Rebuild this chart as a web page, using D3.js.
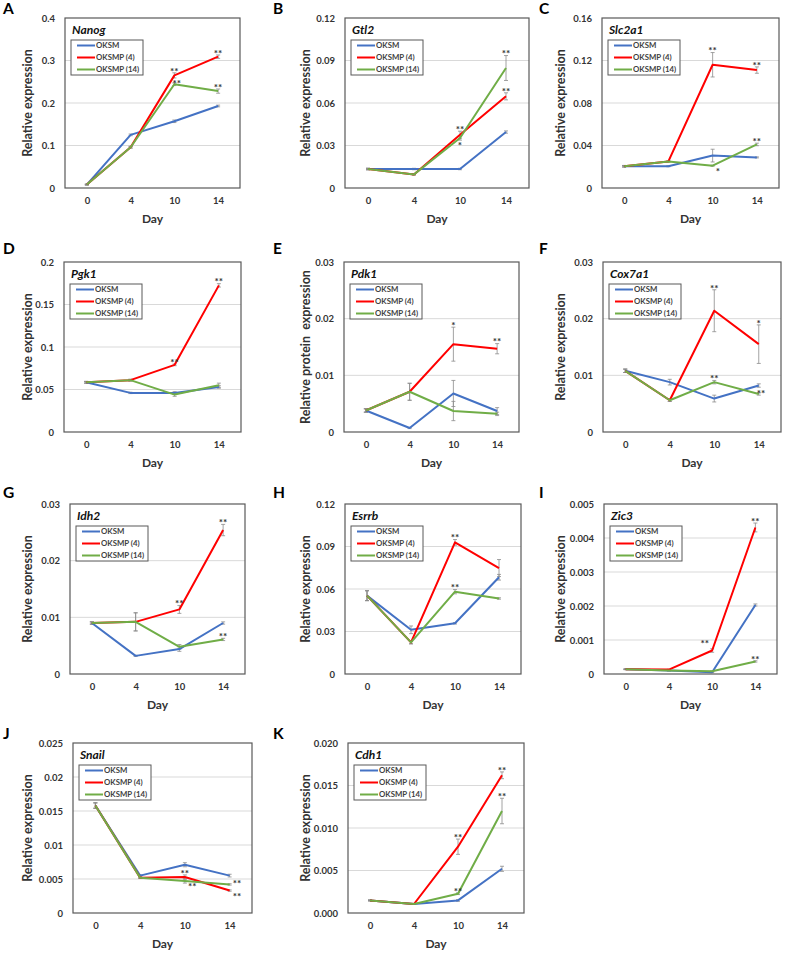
<!DOCTYPE html>
<html>
<head>
<meta charset="utf-8">
<script src="https://cdn.jsdelivr.net/npm/d3@7"></script>
<style>
  body { margin: 0; background: #fff; }
  svg text { font-family: Lato, "Open Sans", sans-serif; }
</style>
</head>
<body>
<svg id="chart" width="789" height="954"></svg>
<script>
const days = ["0", "4", "10", "14"];
const seriesNames = ["OKSM", "OKSMP (4)", "OKSMP (14)"];
const seriesColors = ["#4472C4", "#FF0000", "#70AD47"];

// each gene: [OKSM, OKSMP (4), OKSMP (14)] x days
const nanogTicks = [0, 0.1, 0.2, 0.3, 0.4];
const nanogTickLabels = ["0", "0.1", "0.2", "0.3", "0.4"];
const nanogMean = [[0.008, 0.125, 0.157, 0.193], [0.008, 0.096, 0.265, 0.309], [0.008, 0.096, 0.244, 0.228]];
const nanogErr = [[0.001, 0.002, 0.003, 0.002], [0.001, 0.002, 0.006, 0.004], [0.001, 0.002, 0.003, 0.005]];
const nanogSig = [[1, 2, "**", "up"], [1, 3, "**", "up"], [2, 2, "**", "right"], [2, 3, "**", "up"]];

const gtl2Ticks = [0, 0.03, 0.06, 0.09, 0.12];
const gtl2TickLabels = ["0", "0.03", "0.06", "0.09", "0.12"];
const gtl2Mean = [[0.0134, 0.0134, 0.0134, 0.0395], [0.0134, 0.0096, 0.0376, 0.0647], [0.0134, 0.0096, 0.0353, 0.0847]];
const gtl2Err = [[0.0005, 0.0005, 0.0005, 0.0008], [0.0005, 0.0004, 0.0025, 0.0025], [0.0005, 0.0004, 0.0015, 0.0088]];
const gtl2Sig = [[1, 2, "**", "up"], [2, 2, "*", "down"], [2, 3, "**", "up"], [1, 3, "**", "up"]];

const slc2a1Ticks = [0, 0.04, 0.08, 0.12, 0.16];
const slc2a1TickLabels = ["0", "0.04", "0.08", "0.12", "0.16"];
const slc2a1Mean = [[0.0205, 0.0205, 0.0305, 0.0288], [0.0205, 0.025, 0.116, 0.111], [0.0205, 0.025, 0.021, 0.041]];
const slc2a1Err = [[0.0007, 0.0005, 0.006, 0.0005], [0.0007, 0.0005, 0.0115, 0.003], [0.0007, 0.0005, 0.0005, 0.0012]];
const slc2a1Sig = [[1, 2, "**", "up"], [1, 3, "**", "up"], [2, 3, "**", "up"], [2, 2, "*", "lowright"]];

const pgk1Ticks = [0, 0.05, 0.1, 0.15, 0.2];
const pgk1TickLabels = ["0", "0.05", "0.1", "0.15", "0.2"];
const pgk1Mean = [[0.0585, 0.046, 0.046, 0.053], [0.0585, 0.061, 0.079, 0.1725], [0.0585, 0.061, 0.044, 0.055]];
const pgk1Err = [[0.001, 0.0008, 0.0015, 0.0015], [0.001, 0.001, 0.001, 0.002], [0.001, 0.001, 0.002, 0.0025]];
const pgk1Sig = [[1, 2, "**", "up"], [1, 3, "**", "up"]];

const pdk1Ticks = [0, 0.01, 0.02, 0.03];
const pdk1TickLabels = ["0", "0.01", "0.02", "0.03"];
const pdk1Mean = [[0.0038, 0.0007, 0.0068, 0.0037], [0.0038, 0.0071, 0.0155, 0.0147], [0.0038, 0.0071, 0.0037, 0.0032]];
const pdk1Err = [[0.0003, 0.0001, 0.0023, 0.0006], [0.0003, 0.0015, 0.003, 0.0009], [0.0003, 0.0015, 0.0017, 0.0003]];
const pdk1Sig = [[1, 2, "*", "up"], [1, 3, "**", "up"]];

const cox7a1Ticks = [0, 0.01, 0.02, 0.03];
const cox7a1TickLabels = ["0", "0.01", "0.02", "0.03"];
const cox7a1Mean = [[0.0108, 0.0088, 0.0059, 0.0082], [0.0108, 0.0056, 0.0214, 0.0155], [0.0108, 0.0056, 0.0088, 0.0067]];
const cox7a1Err = [[0.0003, 0.0005, 0.0006, 0.0003], [0.0003, 0.0002, 0.0037, 0.0034], [0.0003, 0.0002, 0.0003, 0.0002]];
const cox7a1Sig = [[1, 2, "**", "up"], [1, 3, "*", "up"], [2, 2, "**", "up"], [2, 3, "**", "right"]];

const idh2Ticks = [0, 0.01, 0.02, 0.03];
const idh2TickLabels = ["0", "0.01", "0.02", "0.03"];
const idh2Mean = [[0.009, 0.0032, 0.0044, 0.009], [0.009, 0.0092, 0.0114, 0.0254], [0.009, 0.0092, 0.0048, 0.0061]];
const idh2Err = [[0.0002, 0.0001, 0.0004, 0.0002], [0.0002, 0.0016, 0.0007, 0.001], [0.0002, 0.0016, 0.0004, 0.0002]];
const idh2Sig = [[1, 2, "**", "up"], [1, 3, "**", "up"], [2, 3, "**", "up"]];

const esrrbTicks = [0, 0.03, 0.06, 0.09, 0.12];
const esrrbTickLabels = ["0", "0.03", "0.06", "0.09", "0.12"];
const esrrbMean = [[0.0553, 0.0312, 0.0358, 0.0683], [0.0553, 0.0223, 0.0929, 0.0748], [0.0553, 0.0223, 0.0581, 0.0533]];
const esrrbErr = [[0.0035, 0.0027, 0.0005, 0.002], [0.0035, 0.001, 0.002, 0.006], [0.0035, 0.001, 0.0015, 0.0005]];
const esrrbSig = [[1, 2, "**", "up"], [2, 2, "**", "up"]];

const zic3Ticks = [0, 0.001, 0.002, 0.003, 0.004, 0.005];
const zic3TickLabels = ["0", "0.001", "0.002", "0.003", "0.004", "0.005"];
const zic3Mean = [[0.00014, 0.0001, 0.00005, 0.00203], [0.00014, 0.00013, 0.00069, 0.00431], [0.00014, 0.0001, 0.00008, 0.00037]];
const zic3Err = [[0.00001, 0.00001, 0.00001, 0.00003], [0.00001, 0.00001, 0.00005, 0.00013], [0.00001, 0.00001, 0.00001, 0.00002]];
const zic3Sig = [[1, 2, "**", "upleft"], [1, 3, "**", "up"], [2, 3, "**", "up"]];

const snailTicks = [0, 0.005, 0.01, 0.015, 0.02, 0.025];
const snailTickLabels = ["0", "0.005", "0.01", "0.015", "0.02", "0.025"];
const snailMean = [[0.0158, 0.0055, 0.0071, 0.0055], [0.0158, 0.0052, 0.0053, 0.0033], [0.0158, 0.0052, 0.0047, 0.0042]];
const snailErr = [[0.0004, 0.0001, 0.0003, 0.0002], [0.0004, 0.0001, 0.0003, 0.0001], [0.0004, 0.0001, 0.0003, 0.0001]];
const snailSig = [[1, 2, "**", "up"], [2, 2, "**", "lowright"], [2, 3, "**", "side"], [1, 3, "**", "lowright"]];

const cdh1Ticks = [0, 0.005, 0.01, 0.015, 0.02];
const cdh1TickLabels = ["0.000", "0.005", "0.010", "0.015", "0.020"];
const cdh1Mean = [[0.00148, 0.00106, 0.00148, 0.0052], [0.00148, 0.00106, 0.0078, 0.0162], [0.00148, 0.00106, 0.00227, 0.012]];
const cdh1Err = [[0.00005, 0.00005, 0.0001, 0.0003], [0.00005, 0.00005, 0.0009, 0.0004], [0.00005, 0.00005, 0.0001, 0.0015]];
const cdh1Sig = [[1, 2, "**", "up"], [1, 3, "**", "up"], [2, 3, "**", "up"], [2, 2, "**", "up"]];

// layout: plot box per panel, row tops, letter positions, y title centre x
const rowTop = [18, 262, 504, 743];
const rowLetterY = [14, 254, 498, 739];
const colTitleX = [27, 305, 560];
const colLetterX = [3, 273, 539];

const panels = [
  { letter: "A", gene: "Nanog", col: 0, row: 0, left: 65, right: 240, ticks: nanogTicks, labels: nanogTickLabels, mean: nanogMean, err: nanogErr, sig: nanogSig },
  { letter: "B", gene: "Gtl2", col: 1, row: 0, left: 345, right: 529, ticks: gtl2Ticks, labels: gtl2TickLabels, mean: gtl2Mean, err: gtl2Err, sig: gtl2Sig },
  { letter: "C", gene: "Slc2a1", col: 2, row: 0, left: 602, right: 779, ticks: slc2a1Ticks, labels: slc2a1TickLabels, mean: slc2a1Mean, err: slc2a1Err, sig: slc2a1Sig },
  { letter: "D", gene: "Pgk1", col: 0, row: 1, left: 64, right: 241, ticks: pgk1Ticks, labels: pgk1TickLabels, mean: pgk1Mean, err: pgk1Err, sig: pgk1Sig },
  { letter: "E", gene: "Pdk1", col: 1, row: 1, left: 344, right: 519, ticks: pdk1Ticks, labels: pdk1TickLabels, mean: pdk1Mean, err: pdk1Err, sig: pdk1Sig, yTitle: "Relative protein  expression" },
  { letter: "F", gene: "Cox7a1", col: 2, row: 1, left: 603, right: 781, ticks: cox7a1Ticks, labels: cox7a1TickLabels, mean: cox7a1Mean, err: cox7a1Err, sig: cox7a1Sig },
  { letter: "G", gene: "Idh2", col: 0, row: 2, left: 70, right: 245, ticks: idh2Ticks, labels: idh2TickLabels, mean: idh2Mean, err: idh2Err, sig: idh2Sig },
  { letter: "H", gene: "Esrrb", col: 1, row: 2, left: 345, right: 521, ticks: esrrbTicks, labels: esrrbTickLabels, mean: esrrbMean, err: esrrbErr, sig: esrrbSig },
  { letter: "I", gene: "Zic3", col: 2, row: 2, left: 604, right: 777, ticks: zic3Ticks, labels: zic3TickLabels, mean: zic3Mean, err: zic3Err, sig: zic3Sig },
  { letter: "J", gene: "Snail", col: 0, row: 3, left: 73, right: 252, ticks: snailTicks, labels: snailTickLabels, mean: snailMean, err: snailErr, sig: snailSig },
  { letter: "K", gene: "Cdh1", col: 1, row: 3, left: 348, right: 524, ticks: cdh1Ticks, labels: cdh1TickLabels, mean: cdh1Mean, err: cdh1Err, sig: cdh1Sig }
];

// where the asterisks sit relative to a point / its error bar
const sigPlacement = {
  up: { anchor: "middle", dx: 0, dy: 1.8, ref: "top" },
  down: { anchor: "middle", dx: 0, dy: 9.3, ref: "bottom" },
  right: { anchor: "start", dx: -2, dy: 2.5, ref: "mid" },
  side: { anchor: "start", dx: 3, dy: 3, ref: "mid" },
  lowright: { anchor: "start", dx: 3, dy: 9, ref: "mid" },
  upleft: { anchor: "end", dx: -3, dy: -3.5, ref: "mid" }
};

const plotHeight = 170;
const textColor = "#333";
const svg = d3.select("#chart");

function drawPanel(p) {
  const top = rowTop[p.row];
  const bottom = top + plotHeight;
  const g = svg.append("g");

  const x = d3.scalePoint().domain(days).range([p.left, p.right]).padding(0.5);
  const y = d3.scaleLinear().domain([0, p.ticks[p.ticks.length - 1]]).range([bottom, top]);

  // gridlines
  g.selectAll(".grid")
    .data(p.ticks.slice(1, -1))
    .join("line")
    .attr("x1", p.left).attr("x2", p.right)
    .attr("y1", d => y(d)).attr("y2", d => y(d))
    .attr("stroke", "#d9d9d9").attr("stroke-width", 1);

  // y axis labels
  const yAxis = d3.axisLeft(y)
    .tickValues(p.ticks)
    .tickFormat((d, i) => p.labels[i])
    .tickSize(0)
    .tickPadding(10);
  g.append("g")
    .attr("transform", `translate(${p.left},0)`)
    .call(yAxis)
    .call(a => a.select(".domain").remove())
    .selectAll("text")
    .attr("font-family", "Lato, sans-serif")
    .attr("font-size", 9.5)
    .attr("font-weight", "bold")
    .attr("fill", textColor);

  // x axis labels
  const xAxis = d3.axisBottom(x).tickSize(0).tickPadding(9);
  g.append("g")
    .attr("transform", `translate(0,${bottom})`)
    .call(xAxis)
    .call(a => a.select(".domain").remove())
    .selectAll("text")
    .attr("font-family", "Lato, sans-serif")
    .attr("font-size", 9.5)
    .attr("font-weight", "bold")
    .attr("fill", textColor);

  // error bars, then series lines
  const line = d3.line().x((d, i) => x(days[i])).y(d => y(d));
  p.mean.forEach((vals, s) => {
    const bars = vals.map((v, i) => ({ day: days[i], v: v, e: p.err[s][i] }));
    g.selectAll(null)
      .data(bars)
      .join("path")
      .attr("d", d => {
        const cx = x(d.day), y0 = y(d.v - d.e), y1 = y(d.v + d.e);
        return `M${cx},${y0}V${y1}M${cx - 2},${y0}H${cx + 2}M${cx - 2},${y1}H${cx + 2}`;
      })
      .attr("stroke", "#8c8c8c")
      .attr("stroke-width", 0.8)
      .attr("fill", "none");
  });
  p.mean.forEach((vals, s) => {
    g.append("path")
      .datum(vals)
      .attr("d", line)
      .attr("fill", "none")
      .attr("stroke", seriesColors[s])
      .attr("stroke-width", 2)
      .attr("stroke-linejoin", "round");
  });

  // significance marks
  g.selectAll(".sig")
    .data(p.sig)
    .join("text")
    .attr("class", "sig")
    .each(function (d) {
      const [s, i, txt, where] = d;
      const pl = sigPlacement[where];
      const m = p.mean[s][i], e = p.err[s][i];
      const refY = pl.ref === "top" ? y(m + e) : pl.ref === "bottom" ? y(m - e) : y(m);
      d3.select(this)
        .attr("x", x(days[i]) + pl.dx)
        .attr("y", refY + pl.dy)
        .attr("text-anchor", pl.anchor)
        .text(txt);
    })
    .attr("font-family", "'DejaVu Sans', sans-serif")
    .attr("font-size", 10)
    .attr("font-weight", "bold")
    .attr("fill", "#333");

  // plot box
  g.append("rect")
    .attr("x", p.left).attr("y", top)
    .attr("width", p.right - p.left).attr("height", plotHeight)
    .attr("fill", "none")
    .attr("stroke", "#595959")
    .attr("stroke-width", 1.2);

  // gene name
  g.append("text")
    .attr("x", p.left + 7)
    .attr("y", top + 16)
    .attr("font-size", 12)
    .attr("font-weight", "bold")
    .attr("font-style", "italic")
    .attr("fill", "#111")
    .text(p.gene);

  // legend
  const lg = g.append("g").attr("transform", `translate(${p.left + 6},${top + 22})`);
  lg.append("rect")
    .attr("width", 72).attr("height", 35)
    .attr("fill", "#fff")
    .attr("stroke", "#595959")
    .attr("stroke-width", 1);
  seriesNames.forEach((name, s) => {
    const ly = 5.5 + s * 12;
    lg.append("line")
      .attr("x1", 6).attr("x2", 24)
      .attr("y1", ly).attr("y2", ly)
      .attr("stroke", seriesColors[s])
      .attr("stroke-width", 2);
    lg.append("text")
      .attr("x", 25).attr("y", ly + 2.8)
      .attr("font-size", 7.8)
      .attr("font-weight", "bold")
      .attr("fill", "#404040")
      .text(name);
  });

  // axis titles
  const midY = (top + bottom) / 2;
  g.append("text")
    .attr("transform", `translate(${colTitleX[p.col] + 4.5},${midY}) rotate(-90)`)
    .attr("text-anchor", "middle")
    .attr("font-size", 12.5)
    .attr("font-weight", "bold")
    .attr("fill", textColor)
    .style("white-space", "pre")
    .text(p.yTitle || "Relative expression");

  g.append("text")
    .attr("x", (p.left + p.right) / 2)
    .attr("y", bottom + 35)
    .attr("text-anchor", "middle")
    .attr("font-size", 12)
    .attr("font-weight", "bold")
    .attr("fill", textColor)
    .text("Day");

  // panel letter
  g.append("text")
    .attr("x", colLetterX[p.col])
    .attr("y", rowLetterY[p.row])
    .attr("font-size", 15.5)
    .attr("font-weight", "bold")
    .attr("fill", "#000")
    .text(p.letter);
}

panels.forEach(drawPanel);
</script>
</body>
</html>
